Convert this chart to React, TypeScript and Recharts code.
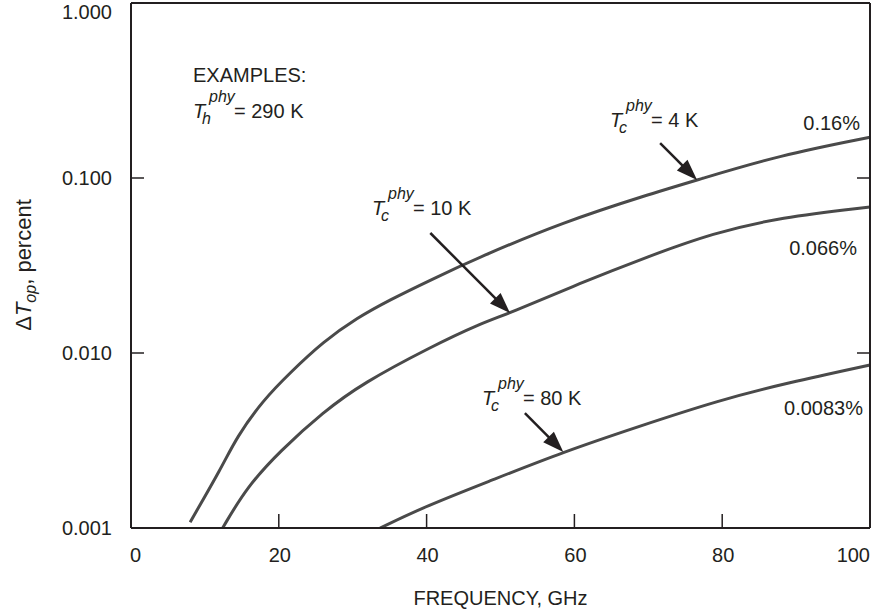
import React from "react";
import { LineChart, Line, XAxis, YAxis, ReferenceLine } from "recharts";

const INK = "#231f20";
const CURVE = "#4a4a4a";
const FONT = "'Liberation Sans', Arial, Helvetica, sans-serif";

// frequency (GHz) / delta T_op (percent)
const freq4K = [8, 12.3, 14.3, 17.9, 21.5, 26, 30.6, 35, 40.5, 47.2, 58.5, 69.8, 76.6, 87.8, 100];
const pct4K = [0.00108, 0.00223, 0.00331, 0.00539, 0.00769, 0.0116, 0.0159, 0.0201, 0.0261, 0.0354, 0.056, 0.08, 0.0974, 0.135, 0.171];

const freq10K = [12.4, 15.7, 20.2, 26, 31.4, 40.5, 47.2, 51.3, 60.8, 69.8, 78.8, 87.8, 100];
const pct10K = [0.001, 0.00172, 0.00276, 0.0046, 0.00674, 0.0108, 0.0147, 0.0169, 0.0251, 0.0354, 0.0485, 0.0595, 0.0683];

const freq80K = [33.7, 40, 48.6, 58.5, 68.5, 79.7, 88.8, 100];
const pct80K = [0.001, 0.00134, 0.00186, 0.00272, 0.00378, 0.00539, 0.00674, 0.00854];

const xTicks = [0, 20, 40, 60, 80, 100];
const yTicks = [0.001, 0.01, 0.1, 1];

// arrows: label end -> curve end, in data units
const arrowFrom = [
  { f: 71.6, v: 0.158 },
  { f: 40.5, v: 0.0485 },
  { f: 53.3, v: 0.00454 },
];
const arrowTo = [
  { f: 76.6, v: 0.0974 },
  { f: 51.3, v: 0.0169 },
  { f: 58.5, v: 0.00272 },
];

const toPoints = (fs: number[], vs: number[]) => fs.map((f, i) => ({ f, v: vs[i] }));

const ArrowShape = (props: any) => {
  const { x1, y1, x2, y2 } = props;
  const dx = x2 - x1;
  const dy = y2 - y1;
  const len = Math.sqrt(dx * dx + dy * dy) || 1;
  const ux = dx / len;
  const uy = dy / len;
  const head = 21;
  const half = 7.5;
  const bx = x2 - ux * head;
  const by = y2 - uy * head;
  return (
    <g>
      <line x1={x1} y1={y1} x2={bx + ux * 2} y2={by + uy * 2} stroke={INK} strokeWidth={2.5} />
      <polygon
        points={`${x2},${y2} ${bx - uy * half},${by + ux * half} ${bx + uy * half},${by - ux * half}`}
        fill={INK}
      />
    </g>
  );
};

const PhyLabel = ({ x, y, sub, rest }: { x: number; y: number; sub: string; rest: string }) => (
  <text x={x} y={y} fontFamily={FONT} fill={INK} fontSize={20}>
    <tspan fontStyle="italic">T</tspan>
    <tspan x={x + 9} dy={6} fontSize={16} fontStyle="italic">{sub}</tspan>
    <tspan x={x + 16} dy={-22} fontSize={16} fontStyle="italic">phy</tspan>
    <tspan x={x + 41} dy={16}>{rest}</tspan>
  </text>
);

const XTick = (props: any) => {
  const { x, y, payload } = props;
  const v = payload.value;
  const anchor = v === 0 ? "start" : v === 100 ? "end" : "middle";
  const tx = v === 0 ? x - 1 : v === 100 ? x + 3 : x + 1;
  return (
    <text x={tx} y={y} dy="0.71em" textAnchor={anchor} fill={INK} fontSize={20} fontFamily={FONT}>
      {v}
    </text>
  );
};

const tickStyle = { fill: INK, fontSize: 20, fontFamily: FONT };

export default function App() {
  return (
    <div style={{ position: "absolute", left: 0, top: 0, background: "#fff" }}>
      <LineChart width={879} height={615} margin={{ top: 2, right: 8, bottom: 0, left: 0 }}>
        <XAxis
          dataKey="f"
          type="number"
          domain={[0, 100]}
          ticks={xTicks}
          height={87}
          tickSize={-14}
          tickMargin={34}
          axisLine={{ stroke: INK, strokeWidth: 2 }}
          tickLine={{ stroke: INK, strokeWidth: 1.5 }}
          tick={<XTick />}
          label={{ value: "FREQUENCY, GHz", position: "insideBottom", offset: 10, fill: INK, fontSize: 20, fontFamily: FONT }}
        />
        <XAxis
          xAxisId="top"
          orientation="top"
          type="number"
          domain={[0, 100]}
          ticks={xTicks}
          height={1}
          tickSize={-14}
          tickFormatter={() => ""}
          axisLine={{ stroke: INK, strokeWidth: 2 }}
          tickLine={{ stroke: INK, strokeWidth: 1.5 }}
        />
        <YAxis
          type="number"
          scale="log"
          domain={[0.001, 1]}
          ticks={yTicks}
          allowDataOverflow
          width={131}
          tickSize={-13}
          tickMargin={32}
          tickFormatter={(v: number) => v.toFixed(3)}
          axisLine={{ stroke: INK, strokeWidth: 2 }}
          tickLine={{ stroke: INK, strokeWidth: 1.5 }}
          tick={tickStyle}
        />
        <YAxis
          yAxisId="right"
          orientation="right"
          type="number"
          scale="log"
          domain={[0.001, 1]}
          ticks={yTicks}
          allowDataOverflow
          width={1}
          tickSize={-13}
          tickFormatter={() => ""}
          axisLine={{ stroke: INK, strokeWidth: 2 }}
          tickLine={{ stroke: INK, strokeWidth: 1.5 }}
        />
        <Line data={toPoints(freq4K, pct4K)} dataKey="v" type="basis" stroke={CURVE} strokeWidth={3} dot={false} isAnimationActive={false} />
        <Line data={toPoints(freq10K, pct10K)} dataKey="v" type="basis" stroke={CURVE} strokeWidth={3} dot={false} isAnimationActive={false} />
        <Line data={toPoints(freq80K, pct80K)} dataKey="v" type="basis" stroke={CURVE} strokeWidth={3} dot={false} isAnimationActive={false} />
        {arrowFrom.map((a, i) => (
          <ReferenceLine
            key={i}
            segment={[{ x: a.f, y: a.v }, { x: arrowTo[i].f, y: arrowTo[i].v }]}
            shape={ArrowShape}
          />
        ))}
        <g fontFamily={FONT} fill={INK} fontSize={20}>
          <text x={193} y={82}>EXAMPLES:</text>
          <text x={860} y={130} textAnchor="end">0.16%</text>
          <text x={857} y={255} textAnchor="end">0.066%</text>
          <text x={863} y={415} textAnchor="end">0.0083%</text>
          <text x={31} y={265} fontSize={22} textAnchor="middle" transform="rotate(-90 31 265)">
            <tspan>Δ</tspan>
            <tspan fontStyle="italic">T</tspan>
            <tspan fontStyle="italic" fontSize={16} dy={5}>op</tspan>
            <tspan dy={-5}>, percent</tspan>
          </text>
        </g>
        <PhyLabel x={193} y={118} sub="h" rest="= 290 K" />
        <PhyLabel x={610} y={127} sub="c" rest="= 4 K" />
        <PhyLabel x={372} y={215} sub="c" rest="= 10 K" />
        <PhyLabel x={482} y={405} sub="c" rest="= 80 K" />
      </LineChart>
    </div>
  );
}
